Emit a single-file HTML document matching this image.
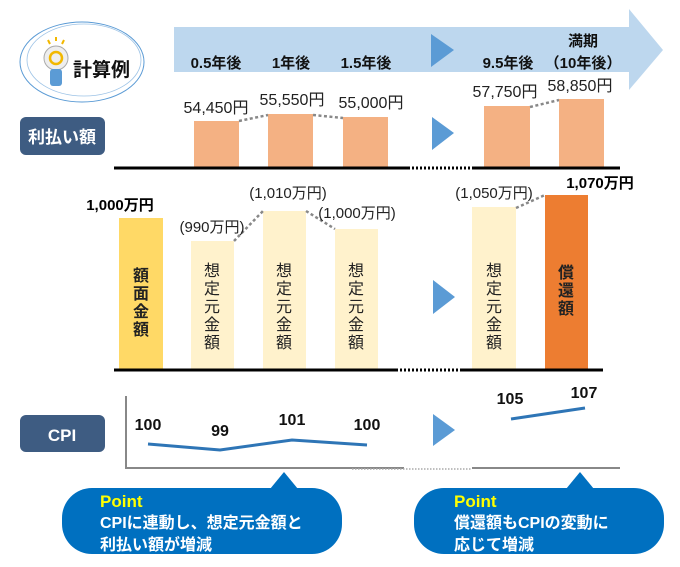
<!DOCTYPE html>
<html><head><meta charset="utf-8"><style>
html,body{margin:0;padding:0;background:#fff;}
svg{display:block;font-family:"Liberation Sans","Noto Sans CJK JP",sans-serif;}
</style></head><body>
<svg width="680" height="567" viewBox="0 0 680 567">
<!-- logo -->
<ellipse cx="82" cy="62" rx="62" ry="40" fill="none" stroke="#5b9bd5" stroke-width="1"/>
<ellipse cx="84" cy="60" rx="57" ry="36" fill="none" stroke="#9dc3e6" stroke-width="0.8"/>
<line x1="48" y1="40" x2="50" y2="44" stroke="#f2b800" stroke-width="2"/>
<line x1="56" y1="37" x2="56" y2="41" stroke="#f2b800" stroke-width="2"/>
<line x1="64" y1="40" x2="62" y2="44" stroke="#f2b800" stroke-width="2"/>
<circle cx="56" cy="58" r="12" fill="#eee" stroke="#aaa"/>
<circle cx="56" cy="58" r="6" fill="none" stroke="#f2b800" stroke-width="2.5"/>
<rect x="50" y="69" width="12" height="17" rx="3" fill="#5b9bd5"/>
<text x="73" y="76" font-size="19" font-weight="bold" fill="#111">計算例</text>
<!-- big arrow -->
<rect x="174" y="27" width="456" height="45" fill="#bdd7ee"/>
<polygon points="629,9 663,50 629,90" fill="#bdd7ee"/>
<g font-size="15" font-weight="bold" fill="#111" text-anchor="middle">
<text x="216" y="68">0.5年後</text><text x="291" y="68">1年後</text><text x="366" y="68">1.5年後</text>
<text x="508" y="68">9.5年後</text><text x="583" y="46">満期</text><text x="583" y="68">（10年後）</text>
</g>
<polygon points="431,34 454,50 431,67" fill="#5b9bd5"/>
<!-- interest -->
<rect x="20" y="117" width="85" height="38" rx="6" fill="#3e5c82"/>
<text x="62" y="143" font-size="17" font-weight="bold" fill="#fff" text-anchor="middle">利払い額</text>
<g fill="#f4b183">
<rect x="194" y="121" width="45" height="47"/><rect x="268" y="114" width="45" height="54"/><rect x="343" y="117" width="45" height="51"/>
<rect x="484" y="106" width="46" height="62"/><rect x="559" y="99" width="45" height="69"/>
</g>
<g stroke="#888" stroke-width="2.5" stroke-dasharray="3,2.5">
<line x1="239" y1="121" x2="268" y2="115"/><line x1="313" y1="115" x2="343" y2="118"/><line x1="530" y1="107" x2="559" y2="100"/>
</g>
<g font-size="16" fill="#222" text-anchor="middle">
<text x="216" y="113">54,450円</text><text x="292" y="105">55,550円</text><text x="371" y="108">55,000円</text>
<text x="505" y="97">57,750円</text><text x="580" y="91">58,850円</text>
</g>
<polygon points="432,117 454,133 432,150" fill="#5b9bd5"/>
<line x1="114" y1="168" x2="408" y2="168" stroke="#000" stroke-width="3"/>
<line x1="408" y1="168" x2="472" y2="168" stroke="#000" stroke-width="3" stroke-dasharray="2,2"/>
<line x1="472" y1="168" x2="620" y2="168" stroke="#000" stroke-width="3"/>
<!-- principal -->
<rect x="119" y="218" width="44" height="152" fill="#ffd966"/>
<g fill="#fff2cc">
<rect x="191" y="241" width="43" height="129"/><rect x="263" y="211" width="43" height="159"/><rect x="335" y="229" width="43" height="141"/><rect x="472" y="207" width="44" height="163"/>
</g>
<rect x="545" y="195" width="43" height="175" fill="#ed7d31"/>
<g stroke="#888" stroke-width="2.5" stroke-dasharray="3,2.5">
<line x1="234" y1="241" x2="263" y2="211"/><line x1="306" y1="211" x2="335" y2="229"/><line x1="516" y1="208" x2="545" y2="195"/>
</g>
<g font-size="15" fill="#222" text-anchor="middle">
<text x="212" y="232">(990万円)</text><text x="288" y="198">(1,010万円)</text><text x="357" y="218">(1,000万円)</text><text x="494" y="198">(1,050万円)</text>
</g>
<text x="120" y="210" font-size="15" font-weight="bold" text-anchor="middle">1,000万円</text>
<text x="600" y="188" font-size="15" font-weight="bold" text-anchor="middle">1,070万円</text>
<g font-size="16" fill="#222" text-anchor="middle">
<text x="141" y="281" font-weight="bold">額</text><text x="141" y="299" font-weight="bold">面</text><text x="141" y="317" font-weight="bold">金</text><text x="141" y="335" font-weight="bold">額</text>
<text x="212" y="276">想</text><text x="212" y="294">定</text><text x="212" y="312">元</text><text x="212" y="330">金</text><text x="212" y="348">額</text>
<text x="284" y="276">想</text><text x="284" y="294">定</text><text x="284" y="312">元</text><text x="284" y="330">金</text><text x="284" y="348">額</text>
<text x="356" y="276">想</text><text x="356" y="294">定</text><text x="356" y="312">元</text><text x="356" y="330">金</text><text x="356" y="348">額</text>
<text x="494" y="276">想</text><text x="494" y="294">定</text><text x="494" y="312">元</text><text x="494" y="330">金</text><text x="494" y="348">額</text>
<text x="566" y="278" font-weight="bold">償</text><text x="566" y="296" font-weight="bold">還</text><text x="566" y="314" font-weight="bold">額</text>
</g>
<polygon points="433,280 455,297 433,314" fill="#5b9bd5"/>
<line x1="114" y1="370" x2="396" y2="370" stroke="#000" stroke-width="3"/>
<line x1="396" y1="370" x2="460" y2="370" stroke="#000" stroke-width="3" stroke-dasharray="2,2"/>
<line x1="460" y1="370" x2="603" y2="370" stroke="#000" stroke-width="3"/>
<!-- CPI -->
<rect x="20" y="415" width="85" height="37" rx="6" fill="#3e5c82"/>
<text x="62" y="441" font-size="17" font-weight="bold" fill="#fff" text-anchor="middle">CPI</text>
<line x1="126" y1="396" x2="126" y2="469" stroke="#888" stroke-width="2"/>
<line x1="125" y1="468" x2="404" y2="468" stroke="#888" stroke-width="2"/>
<line x1="352" y1="469" x2="472" y2="469" stroke="#aaa" stroke-width="1.5" stroke-dasharray="1.5,1.5"/>
<line x1="472" y1="468" x2="620" y2="468" stroke="#888" stroke-width="2"/>
<polyline points="148,444 220,450 292,440 367,445" fill="none" stroke="#2e75b6" stroke-width="3"/>
<line x1="511" y1="419" x2="585" y2="408" stroke="#2e75b6" stroke-width="3"/>
<g font-size="16" font-weight="bold" fill="#111" text-anchor="middle">
<text x="148" y="430">100</text><text x="220" y="436">99</text><text x="292" y="425">101</text><text x="367" y="430">100</text>
<text x="510" y="404">105</text><text x="584" y="398">107</text>
</g>
<polygon points="433,414 455,430 433,446" fill="#5b9bd5"/>
<!-- callouts -->
<polygon points="270,489 284,472 298,489" fill="#0070c0"/>
<rect x="62" y="488" width="280" height="66" rx="30" fill="#0070c0"/>
<text x="100" y="507" font-size="17" font-weight="bold" fill="#ffff00">Point</text>
<text x="100" y="528" font-size="16" font-weight="bold" fill="#fff">CPIに連動し、想定元金額と</text>
<text x="100" y="550" font-size="16" font-weight="bold" fill="#fff">利払い額が増減</text>
<polygon points="566,489 580,472 594,489" fill="#0070c0"/>
<rect x="414" y="488" width="250" height="66" rx="30" fill="#0070c0"/>
<text x="454" y="507" font-size="17" font-weight="bold" fill="#ffff00">Point</text>
<text x="454" y="528" font-size="16" font-weight="bold" fill="#fff">償還額もCPIの変動に</text>
<text x="454" y="550" font-size="16" font-weight="bold" fill="#fff">応じて増減</text>
</svg>
</body></html>
